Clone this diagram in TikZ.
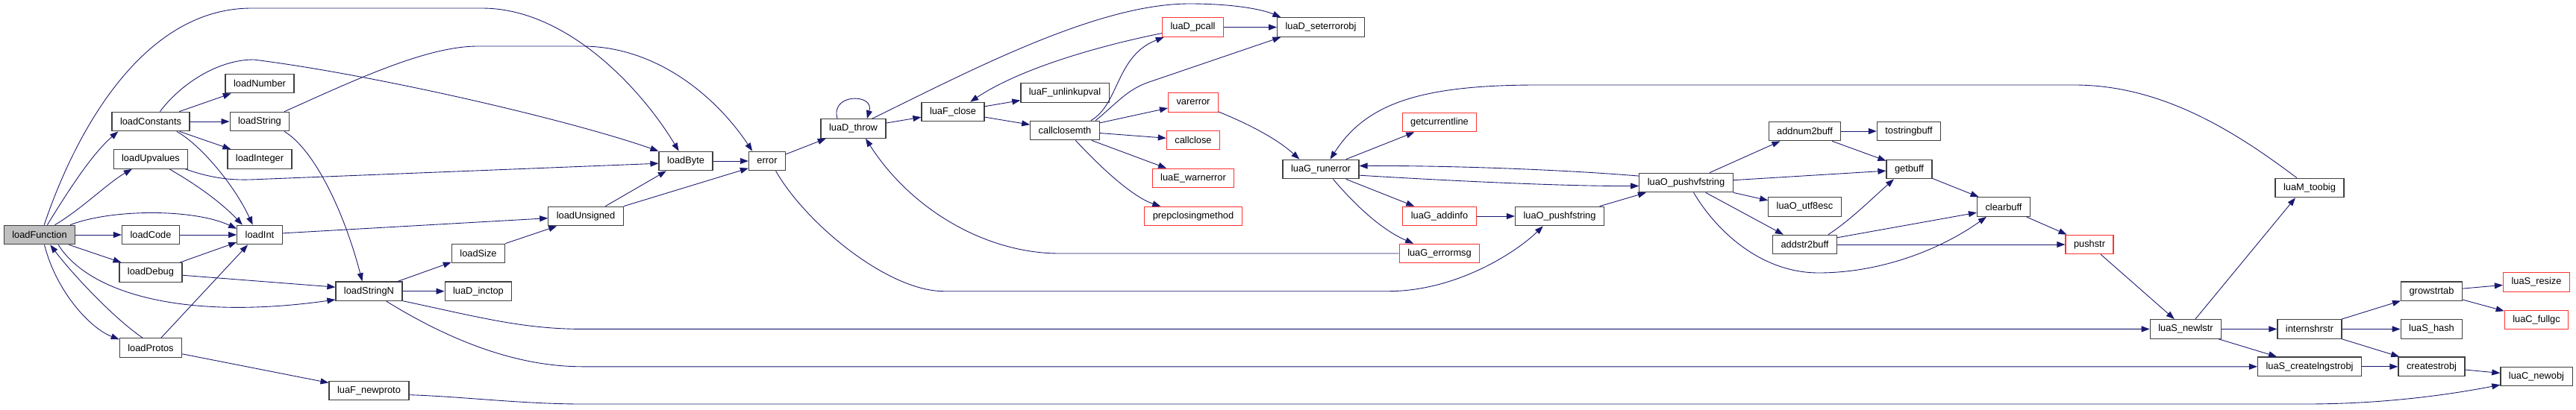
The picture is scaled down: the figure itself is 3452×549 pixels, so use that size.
\documentclass[tikz,border=0pt]{standalone}
\usepackage{fontspec}
\setmainfont{Liberation Sans}
\usetikzlibrary{arrows.meta}
\definecolor{callBlue}{HTML}{191970}
\definecolor{rootGray}{HTML}{BFBFBF}
\definecolor{cutRed}{HTML}{FF3333}

\begin{document}
\begin{tikzpicture}[x=0.02cm, y=-0.02cm,
    fn/.style={draw=black!75, line width=0.7pt, fill=white, minimum height=0.51cm,
               inner xsep=0.22cm, inner ysep=0pt, font=\fontsize{7.3}{8}\selectfont},
    fnred/.style={fn, draw=cutRed},
    call/.style={draw=callBlue, line width=0.5pt, -{Triangle[length=0.22cm, width=0.16cm]}}]
\useasboundingbox (0,0) rectangle (3452,549);

% functions
\node[fn, fill=rootGray] (loadFunction) at (53,315) {loadFunction};
\foreach \n/\x/\y/\t in {loadConstants/202/163/loadConstants, loadUpvalues/202/213.5/loadUpvalues,
    loadCode/202/315/loadCode, loadDebug/202/365.5/loadDebug, loadProtos/202/466.6/loadProtos,
    loadNumber/348/112/loadNumber, loadString/348/163/loadString, loadInteger/348/213.5/loadInteger,
    loadInt/348/315/loadInt, loadStringN/494.5/390.7/loadStringN, luaFnewproto/494.5/524/luaF\_newproto,
    loadSize/641/340/loadSize, luaDinctop/641/390.7/luaD\_inctop, loadUnsigned/785/290/loadUnsigned,
    loadByte/919/216/loadByte, error/1028/216/error, luaDthrow/1143.5/172.5/luaD\_throw,
    luaFclose/1277/150/luaF\_close, luaFunlinkupval/1427/124.5/luaF\_unlinkupval,
    callclosemth/1427/175/callclosemth, luaDseterrorobj/1770/36.5/luaD\_seterrorobj,
    luaGrunerror/1770/227/luaG\_runerror, luaOpushfstring/2090/290/luaO\_pushfstring,
    luaOpushvfstring/2259.5/245/luaO\_pushvfstring, addnum2buff/2418.5/176/addnum2buff,
    luaOutf8esc/2418.5/277.5/luaO\_utf8esc, addstr2buff/2418.5/328/addstr2buff,
    tostringbuff/2558/176/tostringbuff, getbuff/2558.5/227/getbuff, clearbuff/2685/277.5/clearbuff,
    luaSnewlstr/2929/441.4/luaS\_newlstr, luaMtoobig/3095/252/luaM\_toobig,
    internshrstr/3095/441.4/internshrstr, luaScreatelngstrobj/3095/491.8/luaS\_createlngstrobj,
    growstrtab/3258.5/390.7/growstrtab, luaShash/3258.5/441.4/luaS\_hash,
    createstrobj/3258.5/491.8/createstrobj, luaCnewobj/3399/505/luaC\_newobj}{
    \node[fn] (\n) at (\x,\y) {\t};
}
% truncated ones
\foreach \n/\x/\y/\t in {luaDpcall/1598.5/36.5/luaD\_pcall, varerror/1599/137.6/varerror,
    callclose/1599/188/callclose, luaEwarnerror/1599/239/luaE\_warnerror,
    prepclosingmethod/1599/290/prepclosingmethod, getcurrentline/1929/164/getcurrentline,
    luaGaddinfo/1929/290/luaG\_addinfo, luaGerrormsg/1929/340/luaG\_errormsg,
    pushstr/2800/328/pushstr, luaSresize/3399/378.5/luaS\_resize, luaCfullgc/3399/429/luaC\_fullgc}{
    \node[fnred] (\n) at (\x,\y) {\t};
}

% plain calls
\foreach \a/\b in {loadFunction/loadCode, loadFunction/loadDebug, loadConstants/loadNumber,
    loadConstants/loadString, loadConstants/loadInteger, loadCode/loadInt, loadStringN/luaDinctop,
    loadByte/error, luaDthrow/luaFclose, luaFclose/luaFunlinkupval, luaFclose/callclosemth,
    luaDpcall/luaDseterrorobj, callclosemth/varerror, callclosemth/callclose, callclosemth/luaEwarnerror,
    luaGrunerror/getcurrentline, luaGrunerror/luaGaddinfo, luaGaddinfo/luaOpushfstring,
    addnum2buff/tostringbuff, addnum2buff/getbuff, addstr2buff/pushstr, getbuff/clearbuff,
    clearbuff/pushstr, pushstr/luaSnewlstr, luaSnewlstr/internshrstr, luaSnewlstr/luaScreatelngstrobj,
    internshrstr/growstrtab, internshrstr/luaShash, internshrstr/createstrobj, growstrtab/luaSresize,
    growstrtab/luaCfullgc, luaScreatelngstrobj/createstrobj, createstrobj/luaCnewobj}{
    \draw[call] (\a) -- (\b);
}
\foreach \a/\pa/\b/\pb in {loadDebug/19/loadInt/-162, loadDebug/-5/loadStringN/173,
    loadProtos/44/loadInt/-140, loadProtos/-11/luaFnewproto/169, loadInt/4/loadUnsigned/-177,
    loadStringN/19/loadSize/-162, loadSize/north east/loadUnsigned/-161, loadUnsigned/27/loadByte/-153,
    loadUnsigned/north east/error/-159, error/20/luaDthrow/-160, luaOpushfstring/14/luaOpushvfstring/-166,
    luaOpushvfstring/23/addnum2buff/-158, luaOpushvfstring/3/getbuff/-176,
    luaOpushvfstring/south east/luaOutf8esc/170, luaOpushvfstring/-27/addstr2buff/155,
    addstr2buff/12/clearbuff/-168, luaSnewlstr/46/luaMtoobig/-145}{
    \draw[call] (\a.\pa) -- (\b.\pb);
}

% loadFunction
\draw[call] (loadFunction.65) .. controls (100,180) and (190,11) .. (337,11) -- (646,11)
    .. controls (760,11) and (860,120) .. (loadByte.125);
\draw[call] (loadFunction.52) .. controls (95,250) and (125,205) .. (loadConstants.197);
\draw[call] (loadFunction.33) .. controls (110,280) and (145,245) .. (loadUpvalues.-152);
\draw[call] (loadFunction.18) .. controls (150,280) and (260,280) .. (loadInt.165);
\draw[call] (loadFunction.-64) .. controls (75,390) and (120,440) .. (loadProtos.165);
\draw[call] (loadProtos.129) .. controls (150,425) and (95,365) .. (loadFunction.-43);
\draw[call] (loadFunction.-28) .. controls (120,395) and (250,430) .. (loadStringN.-166);

% loaders
\draw[call] (loadConstants.47) .. controls (240,115) and (290,80) .. (340,80)
    .. controls (500,100) and (760,160) .. (loadByte.160);
\draw[call] (loadConstants.-21) .. controls (270,195) and (315,250) .. (loadInt.125);
\draw[call] (loadUpvalues.-16) .. controls (300,245) and (330,241) .. (360,240) -- (loadByte.185);
\draw[call] (loadUpvalues.-28) .. controls (250,240) and (290,265) .. (loadInt.150);
\draw[call] (loadString.22) .. controls (470,110) and (570,62) .. (640,62) -- (780,62)
    .. controls (880,62) and (960,130) .. (error.146);
\draw[call] (loadString.-22) .. controls (420,200) and (460,280) .. (loadStringN.124);
\draw[call] (loadStringN.-16) .. controls (640,425) and (700,441.4) .. (780,441.4) -- (luaSnewlstr);
\draw[call] (loadStringN.-30) .. controls (600,455) and (690,491.8) .. (780,491.8) -- (luaScreatelngstrobj);
\draw[call] (luaFnewproto.-6) .. controls (620,532) and (700,542) .. (780,542) -- (3090,542)
    .. controls (3200,542) and (3290,528) .. (luaCnewobj.-167);

% error handling
\draw[call] (error.-49) .. controls (1080,300) and (1190,390.7) .. (1265,390.7) -- (1860,390.7)
    .. controls (1950,390.7) and (2030,340) .. (luaOpushfstring.-149);
\draw[call] (luaDthrow.148) .. controls (1112,125) and (1172,125) .. (luaDthrow.36);
\draw[call] (luaDthrow.28) .. controls (1300,95) and (1470,5) .. (1594,5)
    .. controls (1650,5) and (1690,12) .. (luaDseterrorobj.166);
\draw[call] (luaDpcall.-169) .. controls (1480,60) and (1370,90) .. (luaFclose.30);
\draw[call] (callclosemth.21) .. controls (1500,140) and (1495,75) .. (luaDpcall.-161);
\draw[call] (callclosemth.18) .. controls (1495,140) and (1510,120) .. (1540,110) -- (luaDseterrorobj.-166);
\draw[call] (callclosemth.-43) .. controls (1480,230) and (1520,265) .. (prepclosingmethod.163);
\draw[call] (varerror.-20) .. controls (1670,165) and (1710,185) .. (luaGrunerror.155);
\draw[call] (luaMtoobig.142) .. controls (3000,180) and (2900,114) .. (2780,114) -- (2060,114)
    .. controls (1900,114) and (1830,140) .. (luaGrunerror.47);
\draw[call] (luaGrunerror.-39) .. controls (1820,280) and (1855,310) .. (luaGerrormsg.159);
\draw[call] (luaGerrormsg) -- (1420,340) .. controls (1320,340) and (1220,280) .. (luaDthrow.-39);
\draw[call] (luaGrunerror.-9) .. controls (1950,243) and (2100,250) .. (luaOpushvfstring.-176);
\draw[call] (luaOpushvfstring.172) .. controls (2100,228) and (1950,222) .. (luaGrunerror.5);

% buffers
\draw[call] (luaOpushvfstring.-53) .. controls (2300,310) and (2360,366) .. (2437,366)
    .. controls (2520,366) and (2600,335) .. (clearbuff.-150);
\draw[call] (addstr2buff.23) .. controls (2480,295) and (2510,265) .. (getbuff.-147);
\end{tikzpicture}
\end{document}
